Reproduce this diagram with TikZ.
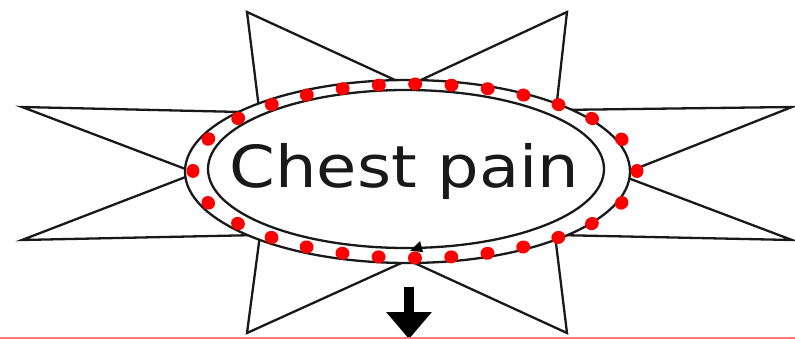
\documentclass[tikz,border=0pt]{standalone}
\usepackage{fontspec}
\setmainfont{DejaVu Sans}
\usetikzlibrary{decorations.markings,arrows.meta}
\definecolor{lightred}{RGB}{255,120,120}
\definecolor{inkgray}{RGB}{25,25,25}
\begin{document}
\begin{tikzpicture}[x=1pt,y=-1pt, line join=miter,
  starline/.style={draw=inkgray, line width=2.3pt},
  ringline/.style={draw=inkgray, line width=2.3pt},
  dotring/.style={decoration={markings, mark=between positions 0 and 1 step 0.0357142 with {\fill[red] (0,0) ellipse [x radius=7, y radius=6.5];}}, decorate}]
\useasboundingbox (0,0) rectangle (795,339);
% star
\draw[starline, fill=white] (247,12) -- (408,86) -- (567,12) -- (556,110) -- (792,107) -- (620,175) -- (792,240) -- (555,235) -- (567,333) -- (408,260) -- (247,333) -- (260,235) -- (22,240) -- (196,173) -- (22,107) -- (259.5,112.4) -- cycle;
% rings
\draw[ringline, fill=white] (407.5,171.5) ellipse [x radius=222.5, y radius=91.5];
\draw[ringline] (406,169) ellipse [x radius=198, y radius=79];
% small arrowhead on the ring
\fill[black] (410,251) -- (420,241) -- (423,252) -- cycle;
% red dots
\path[dotring] (415,171) ellipse [x radius=222, y radius=87];
% label
\node[font=\fontsize{58}{60}\selectfont, text=inkgray, anchor=base, inner sep=0pt, xscale=1.13] (label) at (404.5,188) {Chest pain};
% down arrow
\coordinate (arrowtop) at (409,287);
\coordinate (arrowtip) at (409,339);
\draw[black, line width=10pt, -{Triangle[width=44pt,length=27pt]}] (arrowtop) -- (arrowtip);
% bottom red line
\coordinate (lineL) at (0,337.5);
\coordinate (lineR) at (795,337.5);
\draw[lightred, line width=2pt] (lineL) -- (lineR);
\end{tikzpicture}
\end{document}
